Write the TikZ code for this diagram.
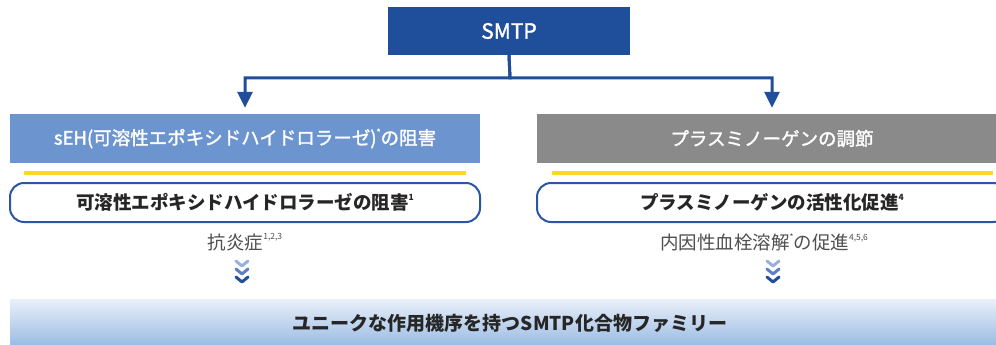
\documentclass[tikz,border=0pt]{standalone}
\usepackage{fontspec}
\setmainfont{Noto Sans CJK JP}
\newfontfamily\semib[FakeBold=1.6]{Noto Sans CJK JP}
\usetikzlibrary{arrows.meta}
\definecolor{navy}{HTML}{1F4E9A}
\definecolor{hdrblue}{HTML}{6C95D0}
\definecolor{hdrgray}{HTML}{8A8A8A}
\definecolor{yel}{HTML}{FFD81F}
\definecolor{rborder}{HTML}{2B56A3}
\definecolor{subgray}{HTML}{4F4F4F}
\definecolor{bandtop}{HTML}{EAF0F9}
\definecolor{bandbot}{HTML}{9BBCE4}
\definecolor{chevA}{HTML}{9AB0DC}
\definecolor{chevB}{HTML}{5D80C2}
\definecolor{chevC}{HTML}{1F4E9A}
\newcommand{\supx}[1]{\raisebox{0.5em}{\fontsize{8.5pt}{8.5pt}\selectfont #1}}
\tikzset{
  topbox/.style={fill=navy, text=white, minimum width=242pt, minimum height=48pt, inner sep=0pt, font=\semib\fontsize{21pt}{21pt}\selectfont},
  hdrbox/.style={text=white, minimum width=470pt, minimum height=49pt, inner sep=0pt, font=\semib\fontsize{18.5pt}{18.5pt}\selectfont},
  roundbox/.style={draw=rborder, line width=2pt, fill=white, rounded corners=14pt, minimum width=470pt, minimum height=39pt, inner sep=0pt, font=\bfseries\fontsize{18.5pt}{18.5pt}\selectfont, text=black!85},
  subtext/.style={text=subgray, inner sep=0pt, font=\fontsize{18.5pt}{18.5pt}\selectfont},
  conn/.style={draw=navy, line width=3pt, -{Triangle[length=16pt,width=15pt]}, shorten >=6pt},
  yline/.style={draw=yel, line width=3.5pt},
  chev/.style={line width=3pt, line cap=round, line join=round},
  bandtext/.style={inner sep=0pt, font=\bfseries\fontsize{19pt}{19pt}\selectfont, text=black!85}
}
\begin{document}
\begin{tikzpicture}[x=1pt,y=-1pt]
\useasboundingbox (0,0) rectangle (996,345);
\clip (0,0) rectangle (996,345);
\fill[white] (0,0) rectangle (996,345);
% top
\node[topbox] (smtp) at (509,31) {SMTP};
% headers
\node[hdrbox, fill=hdrblue] (hl) at (245,138.5) {sEH(可溶性エポキシドハイドロラーゼ)\supx{*}の阻害};
\node[hdrbox, fill=hdrgray] (hr) at (772,138.5) {プラスミノーゲンの調節};
% connectors
\coordinate (split) at (510,78);
\draw[conn] (smtp.south) -- (split) -| (hl);
\draw[conn] (smtp.south) -- (split) -| (hr);
% yellow lines
\coordinate (yl1) at (24,173);
\coordinate (yl2) at (466,173);
\coordinate (yr1) at (552,173);
\coordinate (yr2) at (993,173);
\draw[yline] (yl1) -- (yl2);
\draw[yline] (yr1) -- (yr2);
% rounded boxes
\node[roundbox] (rl) at (245,202.5) {可溶性エポキシドハイドロラーゼの阻害\supx{1}};
\node[roundbox] (rr) at (772,202.5) {プラスミノーゲンの活性化促進\supx{4}};
% sub texts
\node[subtext] (sl) at (245,242) {抗炎症\supx{1,2,3}};
\node[subtext] (sr) at (764,242) {内因性血栓溶解\supx{*}の促進\supx{4,5,6}};
% chevrons
\foreach \cx/\nm in {242/cl, 773/cr}{
  \coordinate (\nm) at (\cx,272);
  \draw[chev, chevA] ([shift={(-6,-11)}]\nm) -- ([shift={(0,-6)}]\nm) -- ([shift={(6,-11)}]\nm);
  \draw[chev, chevB] ([shift={(-6,-3)}]\nm) -- ([shift={(0,2)}]\nm) -- ([shift={(6,-3)}]\nm);
  \draw[chev, chevC] ([shift={(-6,5)}]\nm) -- ([shift={(0,10)}]\nm) -- ([shift={(6,5)}]\nm);
}
% bottom band
\shade[top color=bandtop, bottom color=bandbot] (10,299) rectangle (1007,345);
\node[bandtext] (band) at (510,323) {ユニークな作用機序を持つSMTP化合物ファミリー};
\end{tikzpicture}
\end{document}
